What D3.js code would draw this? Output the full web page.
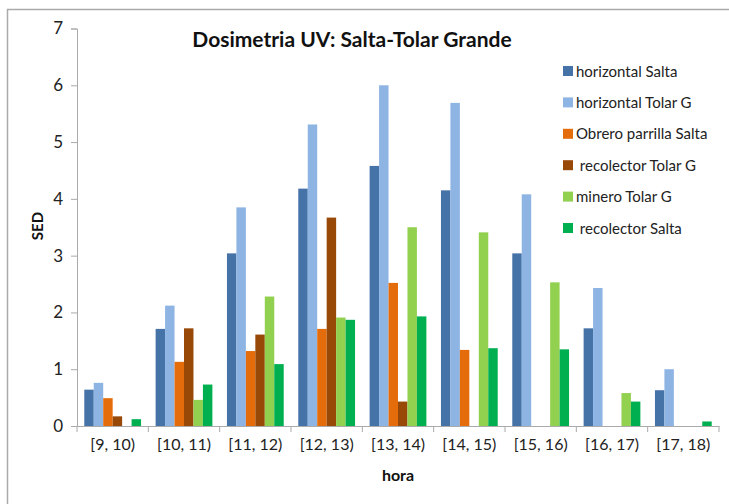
<!DOCTYPE html>
<html>
<head>
<meta charset="utf-8">
<script src="https://cdn.jsdelivr.net/npm/d3@7"></script>
<style>
  body { margin: 0; background: #fff; }
  svg { display: block; }
</style>
</head>
<body>
<svg width="729" height="504"></svg>
<script>
const horas = ["[9, 10)", "[10, 11)", "[11, 12)", "[12, 13)", "[13, 14)", "[14, 15)", "[15, 16)", "[16, 17)", "[17, 18)"];
const seriesNames = ["horizontal Salta", "horizontal Tolar G", "Obrero parrilla Salta", " recolector Tolar G", "minero Tolar G", " recolector Salta"];
const seriesColors = ["#4572A7", "#8EB4E3", "#E46C0A", "#984807", "#92D050", "#00B050"];

const horizontalSalta = [0.64, 1.71, 3.04, 4.18, 4.58, 4.15, 3.04, 1.72, 0.63];
const horizontalTolar = [0.76, 2.12, 3.85, 5.31, 6.00, 5.69, 4.08, 2.43, 1.00];
const obreroSalta     = [0.49, 1.13, 1.32, 1.71, 2.52, 1.34, 0, 0, 0];
const recolectorTolar = [0.17, 1.72, 1.61, 3.67, 0.43, 0, 0, 0, 0];
const mineroTolar     = [0, 0.46, 2.28, 1.91, 3.50, 3.41, 2.53, 0.58, 0];
const recolectorSalta = [0.12, 0.73, 1.09, 1.87, 1.93, 1.37, 1.35, 0.43, 0.08];

const yTicks = [0, 1, 2, 3, 4, 5, 6, 7];

const allSeries = [horizontalSalta, horizontalTolar, obreroSalta, recolectorTolar, mineroTolar, recolectorSalta];

const svg = d3.select("svg");
const font = "Lato, 'Open Sans', sans-serif";

// frame
svg.append("path")
  .attr("d", "M7.5,504 V9.5 H729")
  .attr("fill", "none")
  .attr("stroke", "#aaa")
  .attr("stroke-width", 1.5);

const x0 = d3.scaleBand().domain(horas).range([77, 719]).padding(0);
const x1 = d3.scaleBand().domain(d3.range(seriesNames.length))
  .range([0, x0.bandwidth()]).paddingInner(0).paddingOuter(0.77);
const y = d3.scaleLinear().domain([0, 7]).range([426, 28.5]);

// bars
allSeries.forEach((vals, si) => {
  svg.append("g").selectAll("rect")
    .data(vals)
    .join("rect")
    .attr("x", (d, i) => x0(horas[i]) + x1(si))
    .attr("width", x1.bandwidth())
    .attr("y", d => y(d))
    .attr("height", d => y(0) - y(d))
    .attr("fill", seriesColors[si]);
});

// y axis
const yAxis = svg.append("g")
  .attr("transform", "translate(77,0)")
  .call(d3.axisLeft(y).tickValues(yTicks).tickSize(6).tickPadding(8).tickFormat(d3.format("d")));
yAxis.select(".domain").attr("stroke", "#aaa");
yAxis.selectAll(".tick line").attr("stroke", "#aaa");
yAxis.selectAll("text")
  .attr("fill", "#222")
  .style("font", `17px ${font}`);

// x axis
const xAxis = svg.append("g")
  .attr("transform", "translate(0,426)")
  .call(d3.axisBottom(x0).tickSize(0).tickPadding(13));
xAxis.select(".domain").attr("stroke", "#aaa");
xAxis.selectAll("text")
  .attr("fill", "#222")
  .style("font", `16px ${font}`);
// category separators
svg.append("g").selectAll("line")
  .data(horas.concat(["end"]))
  .join("line")
  .attr("x1", (d, i) => i < horas.length ? x0(d) : x0.range()[1])
  .attr("x2", (d, i) => i < horas.length ? x0(d) : x0.range()[1])
  .attr("y1", 426).attr("y2", 432)
  .attr("stroke", "#aaa");

// title
svg.append("text")
  .attr("x", 352).attr("y", 47)
  .attr("text-anchor", "middle")
  .style("font", `bold 21px ${font}`)
  .attr("fill", "#111")
  .text("Dosimetria UV: Salta-Tolar Grande");

// axis titles
svg.append("text")
  .attr("transform", "translate(43,226) rotate(-90)")
  .attr("text-anchor", "middle")
  .style("font", `bold 15px ${font}`)
  .attr("fill", "#111")
  .text("SED");
svg.append("text")
  .attr("x", 398).attr("y", 481)
  .attr("text-anchor", "middle")
  .style("font", `bold 16px ${font}`)
  .attr("fill", "#111")
  .text("hora");

// legend
const legend = svg.append("g").selectAll("g")
  .data(seriesNames)
  .join("g")
  .attr("transform", (d, i) => `translate(563,${71 + i * 31.4})`);
legend.append("rect")
  .attr("x", 0).attr("y", -5).attr("width", 10).attr("height", 10)
  .attr("fill", (d, i) => seriesColors[i]);
legend.append("text")
  .attr("x", 13).attr("y", 5.5)
  .style("font", `15px ${font}`)
  .style("white-space", "pre")
  .attr("fill", "#222")
  .text(d => d);
</script>
</body>
</html>
